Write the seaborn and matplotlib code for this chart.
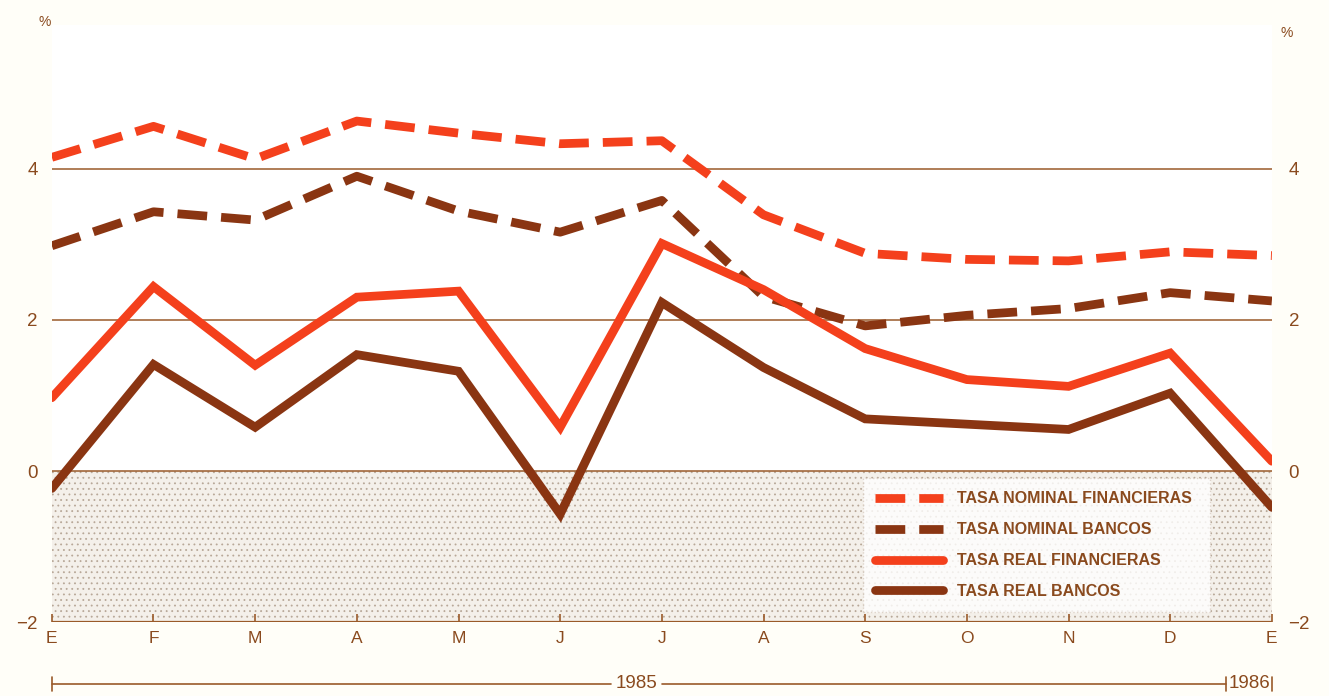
import matplotlib
matplotlib.use('Agg')
import matplotlib.pyplot as plt
import matplotlib.transforms as mtransforms
import seaborn as sns
import pandas as pd
import numpy as np

# -------------------------------
# DATA (% monthly)
# -------------------------------

months = ['E', 'F', 'M', 'A', 'M', 'J', 'J', 'A', 'S', 'O', 'N', 'D', 'E']

nominal_financieras = [4.15, 4.56, 4.13, 4.63, 4.47, 4.33, 4.37, 3.39, 2.88, 2.80, 2.78, 2.90, 2.85]
nominal_bancos = [2.98, 3.43, 3.32, 3.90, 3.44, 3.16, 3.58, 2.31, 1.92, 2.06, 2.15, 2.36, 2.25]
real_financieras = [0.97, 2.44, 1.40, 2.30, 2.38, 0.58, 3.01, 2.40, 1.62, 1.21, 1.12, 1.56, 0.13]
real_bancos = [-0.23, 1.41, 0.58, 1.54, 1.32, -0.57, 2.23, 1.37, 0.69, 0.62, 0.55, 1.03, -0.48]

series_names = ['TASA NOMINAL FINANCIERAS', 'TASA NOMINAL BANCOS',
                'TASA REAL FINANCIERAS', 'TASA REAL BANCOS']
y_ticks = [-2, 0, 2, 4]
year_labels = ['1985', '1986']

RED = '#f4401c'
BROWN = '#8a3512'
TEXT = '#8a4a1e'
GRID = '#9a5a2a'

df = pd.DataFrame({
    'mes': list(range(len(months))) * 4,
    'valor': nominal_financieras + nominal_bancos + real_financieras + real_bancos,
    'serie': np.repeat(series_names, len(months)),
})

sns.set_style('white')
plt.rcParams['font.family'] = ['Liberation Sans', 'DejaVu Sans']
plt.rcParams['hatch.linewidth'] = 0.6

fig = plt.figure(figsize=(13.29, 6.96), dpi=100)
fig.patch.set_facecolor('#fffef8')
ax = fig.add_axes([0.039, 0.106, 0.918, 0.858])
ax.set_facecolor('white')

# shaded negative area
ax.axhspan(-2, 0, facecolor='#f4f0ea', edgecolor='#b8a898', hatch='...', linewidth=0, zorder=0)

for yv in [0, 2, 4]:
    ax.axhline(yv, color=GRID, lw=1.1, zorder=1)
ax.axhline(-2, color=GRID, lw=1.6, zorder=1)

sns.lineplot(
    data=df, x='mes', y='valor', hue='serie', style='serie',
    palette={series_names[0]: RED, series_names[1]: BROWN,
             series_names[2]: RED, series_names[3]: BROWN},
    dashes={series_names[0]: (3.4, 1.6), series_names[1]: (3.4, 1.6),
            series_names[2]: '', series_names[3]: ''},
    linewidth=6.3, legend=False, ax=ax, zorder=3,
)
for ln in ax.lines:
    ln.set_solid_joinstyle('miter')
    ln.set_dash_capstyle('butt')

ax.set_xlim(0, 12)
ax.set_ylim(-2, 5.9)
ax.set_xlabel('')
ax.set_ylabel('')
for s in ax.spines.values():
    s.set_visible(False)

ax.set_xticks(range(len(months)))
ax.set_xticklabels(months, color=TEXT, fontsize=12.5)
ax.tick_params(axis='x', direction='in', length=6, color=GRID, width=1.2, pad=6, bottom=True)
ax.set_yticks(y_ticks)
ax.set_yticklabels(['\u22122', '0', '2', '4'], color=TEXT, fontsize=13.5)
ax.tick_params(axis='y', length=0, pad=10)

ax2 = ax.twinx()
ax2.set_ylim(ax.get_ylim())
ax2.set_yticks(y_ticks)
ax2.set_yticklabels(['\u22122', '0', '2', '4'], color=TEXT, fontsize=13.5)
ax2.tick_params(axis='y', length=0, pad=12)
for s in ax2.spines.values():
    s.set_visible(False)

fig.text(0.034, 0.968, '%', color=TEXT, fontsize=10, ha='center', va='center')
fig.text(0.968, 0.952, '%', color=TEXT, fontsize=10, ha='center', va='center')

# year bar below the axis
tr = mtransforms.blended_transform_factory(ax.transData, ax.transAxes)
yb = -0.103
ax.plot([0, 5.5], [yb, yb], color=GRID, lw=1.2, transform=tr, clip_on=False)
ax.plot([6.0, 11.55], [yb, yb], color=GRID, lw=1.2, transform=tr, clip_on=False)
for xv in [0, 11.55, 12]:
    ax.plot([xv, xv], [yb - 0.012, yb + 0.012], color=GRID, lw=1.2, transform=tr, clip_on=False)
ax.text(5.75, yb, year_labels[0], color=TEXT, fontsize=13.5, ha='center', va='center', transform=tr)
ax.text(11.78, yb, year_labels[1], color=TEXT, fontsize=13.5, ha='center', va='center', transform=tr)

# legend
handles = ax.lines[4:8]
leg = ax.legend(
    handles, series_names, loc='lower left', bbox_to_anchor=(0.662, 0.012, 0.29, 0.235),
    mode='expand', frameon=True, fontsize=11.5, handlelength=4.2, handletextpad=0.9,
    labelspacing=1.0, borderpad=0.8, borderaxespad=0.2, fancybox=False,
)
leg.get_frame().set_facecolor('white')
leg.get_frame().set_edgecolor('#d8ccc0')
leg.get_frame().set_linestyle(':')
for t in leg.get_texts():
    t.set_color(TEXT)
    t.set_fontweight('bold')
leg.set_zorder(5)

fig.savefig('out.png', dpi=100, facecolor=fig.get_facecolor())
